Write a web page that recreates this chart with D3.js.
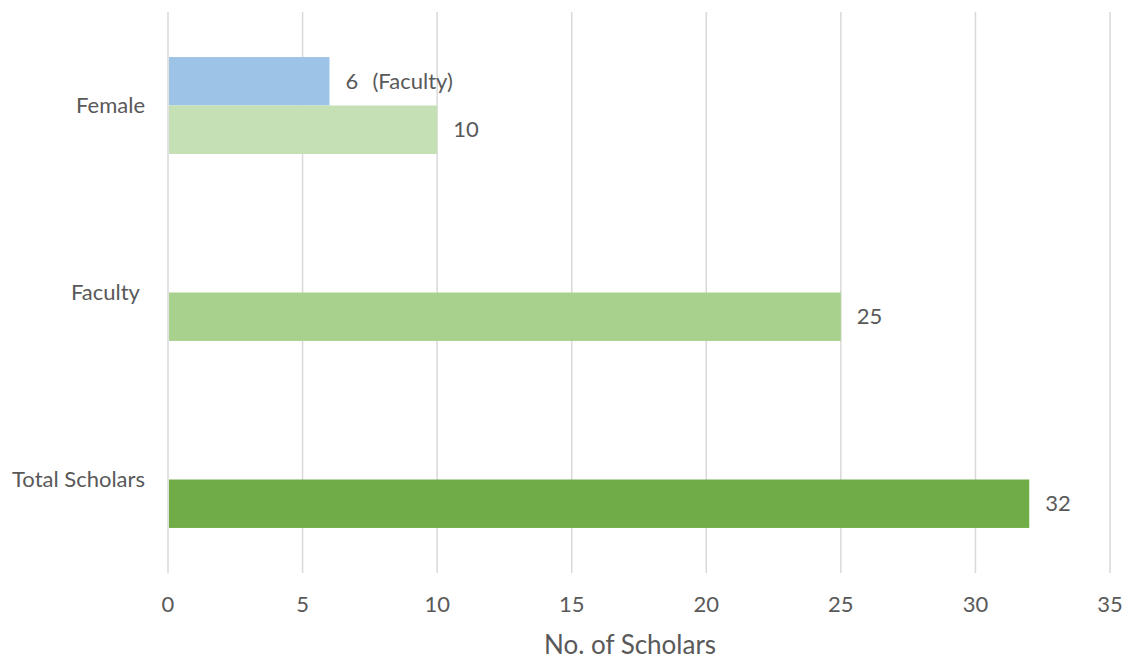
<!DOCTYPE html>
<html><head><meta charset="utf-8">
<script src="https://cdn.jsdelivr.net/npm/d3@7"></script>
<style>body{margin:0;background:#fff}text{font-family:Lato,"Open Sans",sans-serif;fill:#595959}</style>
</head><body><svg id="c" width="1122" height="661"></svg>
<script>
const categories = ["Female", "Faculty ", "Total Scholars"];
const seriesNames = ["Faculty", "Scholars"];
const facultyValues = [6, null, null];
const scholarValues = [10, 25, 32];
const scholarColors = ["#C5E0B4", "#A9D18E", "#70AD47"];
const facultyColor = "#9DC3E6";
const xTicks = [0, 5, 10, 15, 20, 25, 30, 35];
const axisTitle = "No. of Scholars";

const svg = d3.select("#c");
const pLeft = 168, pRight = 1110, pTop = 12, pBottom = 573;
const fs = 22;
const x = d3.scaleLinear().domain([0, 35]).range([pLeft, pRight]);
const y0 = d3.scaleBand().domain(categories).range([pTop, pBottom]);
const y1 = d3.scaleBand().domain(seriesNames).range([0, y0.bandwidth()]).paddingOuter(0.93);

// gridlines
svg.append("g").selectAll("line").data(xTicks).join("line")
  .attr("x1", d => x(d)).attr("x2", d => x(d)).attr("y1", pTop).attr("y2", pBottom)
  .attr("stroke", "#D9D9D9").attr("stroke-width", 1.5);

// bars
const rows = categories.map((c, i) => ({c, i, f: facultyValues[i], s: scholarValues[i]}));
const g = svg.append("g");
rows.forEach(r => {
  if (r.f != null) {
    g.append("rect").attr("x", x(0) + 1).attr("y", y0(r.c) + y1("Faculty"))
      .attr("width", x(r.f) - x(0) - 1).attr("height", y1.bandwidth()).attr("fill", facultyColor);
    const t = g.append("text").attr("y", y0(r.c) + y1("Faculty") + y1.bandwidth() / 2)
      .attr("dy", "0.35em").attr("font-size", fs);
    t.append("tspan").attr("x", x(r.f) + 16).text(r.f);
    t.append("tspan").attr("x", x(r.f) + 43).text("(" + seriesNames[0] + ")");
  }
  if (r.s != null) {
    g.append("rect").attr("x", x(0) + 1).attr("y", y0(r.c) + y1("Scholars"))
      .attr("width", x(r.s) - x(0) - 1).attr("height", y1.bandwidth()).attr("fill", scholarColors[r.i]);
    g.append("text").attr("x", x(r.s) + 16).attr("y", y0(r.c) + y1("Scholars") + y1.bandwidth() / 2)
      .attr("dy", "0.35em").attr("font-size", fs).text(r.s);
  }
});

// category labels
svg.append("g").selectAll("text").data(categories).join("text")
  .attr("x", 145).attr("y", d => y0(d) + y0.bandwidth() / 2).attr("dy", "0.35em")
  .attr("text-anchor", "end").attr("font-size", fs).style("white-space", "pre").text(d => d);

// x tick labels
svg.append("g").selectAll("text").data(xTicks).join("text")
  .attr("x", d => x(d)).attr("y", 612).attr("text-anchor", "middle").attr("font-size", fs).text(d => d);

svg.append("text").attr("x", 630).attr("y", 654).attr("text-anchor", "middle")
  .attr("font-size", 26).text(axisTitle);
</script></body></html>
